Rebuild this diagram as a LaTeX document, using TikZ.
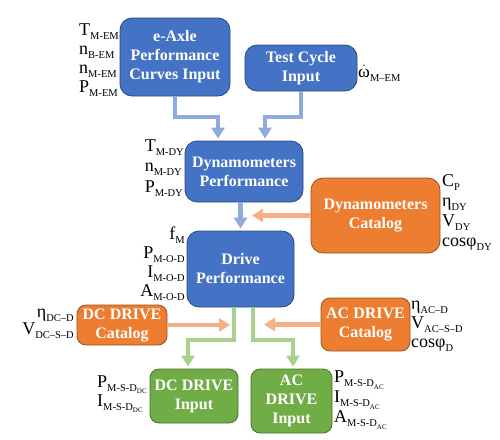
\documentclass[tikz,border=0pt]{standalone}
\usepackage{fontspec}
\setmainfont{Liberation Serif}
\usetikzlibrary{arrows.meta}

\definecolor{boxblue}{HTML}{4472C4}
\definecolor{boxorange}{HTML}{ED7D31}
\definecolor{boxgreen}{HTML}{70AD47}
\definecolor{arrblue}{HTML}{8FAADC}
\definecolor{arrorange}{HTML}{F4B183}
\definecolor{arrgreen}{HTML}{A9D18E}

% lowered subscripts for the variable lists
\newcommand{\lsub}[1]{\raisebox{-4pt}{\fontsize{10.5}{10.5}\selectfont #1}}
\newcommand{\llsub}[1]{\raisebox{-2.5pt}{\fontsize{7}{7}\selectfont #1}}

\tikzset{
  block/.style={draw=#1!65!black, fill=#1, line width=0.8pt, rounded corners=12pt,
    text=white, font=\fontsize{16}{19}\selectfont\bfseries, align=center, inner sep=1pt},
  varlist/.style={font=\fontsize{18}{19}\selectfont, inner sep=0pt, align=left},
  flow/.style={draw=#1, line width=4.5pt, -{Triangle[width=13pt,length=11pt]}, shorten >=2pt}
}

\begin{document}
\begin{tikzpicture}[x=1pt,y=-1pt]
    \useasboundingbox (0,0) rectangle (500,439);

    % blocks
    \node[block=boxblue, minimum width=110pt, minimum height=78pt] (eaxle) at (175,57) {e-Axle\\Performance\\Curves Input};
    \node[block=boxblue, minimum width=112pt, minimum height=46pt] (testcyc) at (301,68) {Test Cycle\\Input};
    \node[block=boxblue, minimum width=118pt, minimum height=61pt] (dynperf) at (244,171.5) {Dynamometers\\Performance};
    \node[block=boxorange, minimum width=129pt, minimum height=75pt] (dyncat) at (375.5,215.5) {Dynamometers\\Catalog};
    \node[block=boxblue, minimum width=107pt, minimum height=76pt] (drive) at (240.5,269) {Drive\\Performance};
    \node[block=boxorange, minimum width=90pt, minimum height=40pt, rounded corners=9pt] (dccat) at (122,325) {DC DRIVE\\Catalog};
    \node[block=boxorange, minimum width=89pt, minimum height=53pt, rounded corners=9pt] (accat) at (365.5,324.5) {AC DRIVE\\Catalog};
    \node[block=boxgreen, minimum width=88pt, minimum height=54pt, rounded corners=9pt] (dcin) at (194,396) {DC DRIVE\\Input};
    \node[block=boxgreen, minimum width=81pt, minimum height=64pt, rounded corners=9pt] (acin) at (291.5,401) {AC\\DRIVE\\Input};

    % variables
    \node[varlist, anchor=east] (eaxlevars) at (119,60) {T\lsub{M-EM}\\n\lsub{B-EM}\\n\lsub{M-EM}\\P\lsub{M-EM}};
    \node[varlist, anchor=west] (testvars) at (358,73) {$\dot{\mbox{ω}}$\lsub{M–EM}};
    \node[varlist, anchor=east, font=\fontsize{18}{20.5}\selectfont] (dynvars) at (184,168) {T\lsub{M-DY}\\n\lsub{M-DY}\\P\lsub{M-DY}};
    \node[varlist, anchor=west, font=\fontsize{18}{20}\selectfont] (dyncatvars) at (442,213) {C\lsub{P}\\η\lsub{DY}\\V\lsub{DY}\\cosφ\lsub{DY}};
    \node[varlist, anchor=east, align=right] (drivevars) at (185,264) {f\lsub{M}\\P\lsub{M-O-D}\\I\lsub{M-O-D}\\A\lsub{M-O-D}};
    \node[varlist, anchor=east, align=right, font=\fontsize{18}{17}\selectfont] (dccatvars) at (74,324) {η\lsub{DC–D}\\V\lsub{DC–S–D}};
    \node[varlist, anchor=west] (accatvars) at (411,326) {η\lsub{AC–D}\\V\lsub{AC–S–D}\\cosφ\lsub{D}};
    \node[varlist, anchor=west] (dcinvars) at (97,394) {P\lsub{M-S-D\llsub{DC}}\\I\lsub{M-S-D\llsub{DC}}};
    \node[varlist, anchor=west, font=\fontsize{18}{20}\selectfont] (acinvars) at (334,400) {P\lsub{M-S-D\llsub{AC}}\\I\lsub{M-S-D\llsub{AC}}\\A\lsub{M-S-D\llsub{AC}}};

    % free ends on the vertical flows
    \coordinate (dyjoin) at (250,215.5);
    \coordinate (dcjoin) at (232,325);
    \coordinate (acjoin) at (262,325);

    % connectors
    \draw[flow=arrblue] (eaxle.south) -- (eaxle.south |- 0,117) -| ([xshift=-26pt]dynperf.north);
    \draw[flow=arrblue] (testcyc.south) -- (testcyc.south |- 0,117) -| ([xshift=21pt]dynperf.north);
    \draw[flow=arrblue] (drive.north |- dynperf.south) -- (drive.north);
    \draw[flow=arrorange] (dyncat.west) -- (dyncat.west -| dyjoin);
    \draw[flow=arrgreen] ([xshift=-6.5pt]drive.south) -- ([xshift=-6.5pt]drive.south |- 0,340) -| ([xshift=-6pt]dcin.north);
    \draw[flow=arrgreen] ([xshift=12.5pt]drive.south) -- ([xshift=12.5pt]drive.south |- 0,340) -| ([xshift=1.5pt]acin.north);
    \draw[flow=arrorange] (dccat.east) -- (dccat.east -| dcjoin);
    \draw[flow=arrorange] (accat.west) -- (accat.west -| acjoin);
\end{tikzpicture}
\end{document}
